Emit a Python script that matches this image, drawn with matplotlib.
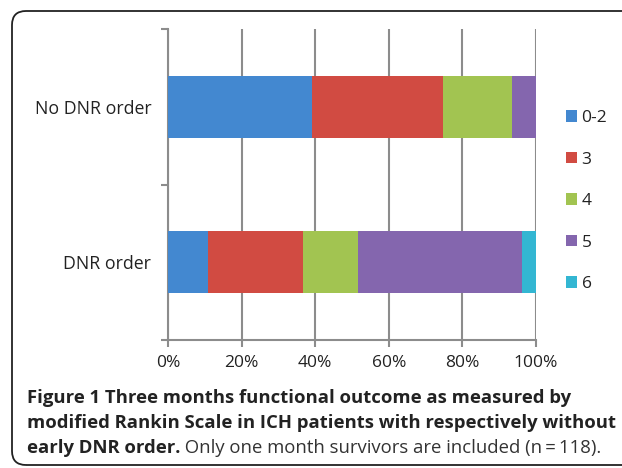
import numpy as np
import matplotlib.pyplot as plt
from matplotlib.patches import FancyBboxPatch

# Modified Rankin Scale distribution (% of patients)
groups = ["DNR order", "No DNR order"]
mrs_labels = ["0-2", "3", "4", "5", "6"]
dnr = [10.9, 25.9, 14.9, 44.6, 3.7]
no_dnr = [39.0, 35.7, 18.7, 6.6, 0.0]
colors = ["#4388d0", "#d14b42", "#a2c451", "#8466ae", "#33b6d2"]
xticks = [0, 20, 40, 60, 80, 100]

plt.rcParams['font.family'] = ['Open Sans', 'DejaVu Sans']

fig = plt.figure(figsize=(6.22, 4.68), dpi=100)
ax = fig.add_axes([168/622, 1 - 340/468, 368/622, 311/468])

data = np.array([dnr, no_dnr])
y = np.arange(len(groups))
left = np.zeros(len(groups))
handles = []
for i, lab in enumerate(mrs_labels):
    b = ax.barh(y, data[:, i], left=left, height=0.4, color=colors[i],
                label=lab, zorder=3)
    handles.append(b)
    left += data[:, i]

ax.set_xlim(0, 100)
ax.set_ylim(-0.5, 1.5)
ax.set_xticks(xticks)
ax.set_xticklabels(["%d%%" % v for v in xticks])
ax.set_yticks(y)
ax.set_yticklabels(groups)
ax.set_yticks([-0.5, 0.5, 1.5], minor=True)
ax.tick_params(axis='y', which='major', length=0, pad=12, labelsize=12.8,
               labelcolor='#222222')
ax.tick_params(axis='y', which='minor', length=5, width=1.5, color='#8c8c8c')
ax.tick_params(axis='x', length=5, width=1.5, color='#8c8c8c', pad=6,
               labelsize=12.5, labelcolor='#222222')
ax.grid(axis='x', color='#8c8c8c', linewidth=1.5, zorder=0)
for s in ['top', 'right']:
    ax.spines[s].set_visible(False)
for s in ['left', 'bottom']:
    ax.spines[s].set_color('#8c8c8c')
    ax.spines[s].set_linewidth(1.5)

fig.legend(handles=handles, loc='upper left', bbox_to_anchor=(566/622, 1 - 110/468),
           frameon=False, fontsize=12.5, labelcolor='#222222', handlelength=0.65,
           handleheight=0.65, handletextpad=0.25, labelspacing=1.47,
           borderaxespad=0, borderpad=0)

# rounded frame around figure
frame = FancyBboxPatch((12, 3), 640, 454, boxstyle="round,pad=0,rounding_size=14",
                       transform=None, fill=False, edgecolor='#222222', linewidth=1.3)
fig.add_artist(frame)

# caption
cx = 27 / 622
fs = 13.3
fig.text(cx, 1 - 398/468, "Figure 1 Three months functional outcome as measured by",
         fontsize=fs, fontweight='bold', va='center', color='#222222')
fig.text(cx, 1 - 423/468, "modified Rankin Scale in ICH patients with respectively without",
         fontsize=fs, fontweight='bold', va='center', color='#222222')
t = fig.text(cx, 1 - 448/468, "early DNR order.", fontsize=fs, fontweight='bold',
             va='center', color='#222222')
ax.annotate(" Only one month survivors are included (n\u2009=\u2009118).", xy=(1, 0),
            xycoords=t, va='bottom', ha='left', fontsize=fs, color='#333333',
            annotation_clip=False)

fig.savefig("out.png", dpi=100)
